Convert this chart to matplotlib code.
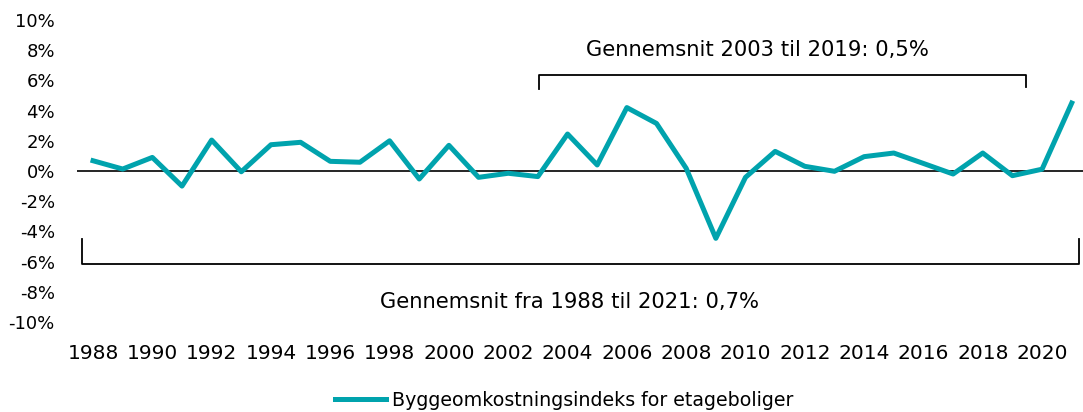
import matplotlib
matplotlib.use("Agg")
import matplotlib.pyplot as plt
from matplotlib.ticker import FuncFormatter

YEARS = list(range(1988, 2022))
VALUES = [0.68, 0.13, 0.90, -1.00, 2.05, -0.05, 1.74, 1.90, 0.64, 0.58,
          2.00, -0.53, 1.70, -0.42, -0.15, -0.37, 2.45, 0.40, 4.20, 3.15,
          0.18, -4.46, -0.42, 1.30, 0.31, -0.02, 0.95, 1.19, 0.50, -0.20,
          1.19, -0.31, 0.12, 4.50]
SERIES = "Byggeomkostningsindeks for etageboliger"
TOP_SPAN = (2003, 2019)
TOP_LABEL = "Gennemsnit 2003 til 2019: 0,5%"
ALL_SPAN = (1988, 2021)
ALL_LABEL = "Gennemsnit fra 1988 til 2021: 0,7%"

TEAL = "#00a3ad"
plt.rcParams["font.family"] = ["DejaVu Sans"]

fig = plt.figure(figsize=(10.83, 4.12), dpi=100)
ax = fig.add_axes([77 / 1083, 1 - 322 / 412, 1006 / 1083, 302 / 412])

ax.plot(YEARS, VALUES, color=TEAL, lw=3.6, label=SERIES, zorder=3)
ax.axhline(0, color="black", lw=1.2, zorder=2)

# brackets showing the averaging periods
x0, x1 = TOP_SPAN[0] + 0.04, TOP_SPAN[1] + 0.47
ax.plot([x0, x0, x1, x1], [5.4, 6.35, 6.35, 5.55], color="black", lw=1.3)
ax.text(2010.39, 8.0, TOP_LABEL, ha="center", va="center", fontsize=15.2)
b0, b1 = ALL_SPAN[0] - 0.37, ALL_SPAN[1] + 0.23
ax.plot([b0, b0, b1, b1], [-4.5, -6.15, -6.15, -4.5], color="black", lw=1.3)
ax.text(2004.08, -8.7, ALL_LABEL, ha="center", va="center", fontsize=15.2)

ax.set_xlim(1987.46, 2021.38)
ax.set_ylim(-10, 10)
ax.set_yticks(range(-10, 11, 2))
ax.yaxis.set_major_formatter(FuncFormatter(lambda v, _: f"{v:.0f}%"))
ax.set_xticks(range(1988, 2021, 2))
ax.tick_params(length=0)
ax.tick_params(axis="y", pad=16, labelsize=13)
ax.tick_params(axis="x", pad=16, labelsize=14.5)
for s in ax.spines.values():
    s.set_visible(False)

fig.legend(loc="center", bbox_to_anchor=(564 / 1083, 1 - 400 / 412), frameon=False,
           handlelength=2.7, handletextpad=0.28, fontsize=13.7)

fig.savefig("out.png", dpi=100)
